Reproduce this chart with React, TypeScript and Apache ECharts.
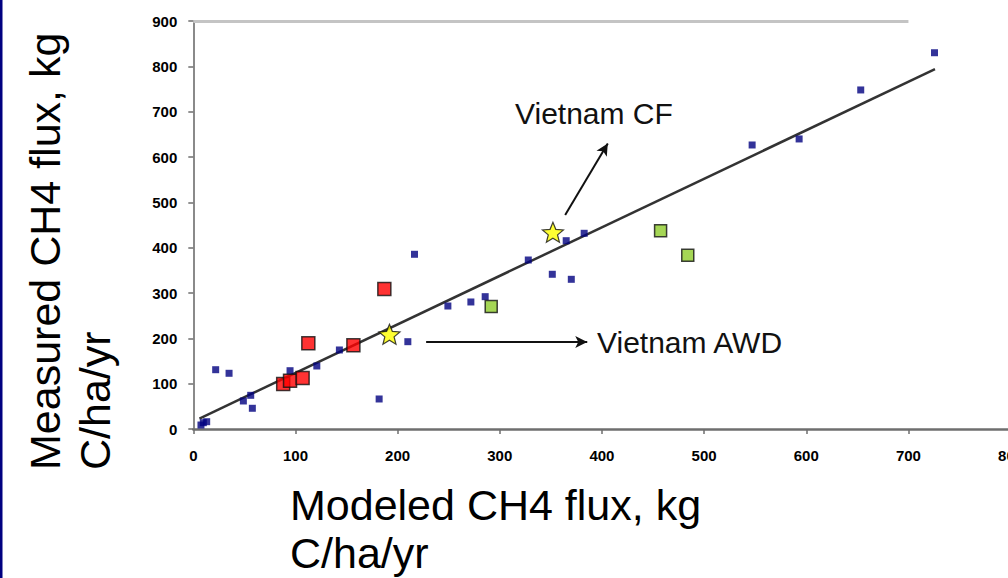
import React, { useEffect, useRef } from "react";
import * as echarts from "echarts";

// ---- data ----
const blueX = [216.5, 181.9, 210, 249.2, 271.7, 285.7, 143, 120.9, 94.7, 21.9, 35, 49, 56.2, 57.8, 9.8, 13.1, 7.5, 365, 382.6, 327.9, 351.4, 370, 547, 593, 653.3, 725.5];
const blueY = [385.4, 66.2, 192.6, 271.3, 280.2, 291.9, 174.3, 139, 128.6, 130.8, 122.9, 61.8, 74.3, 45.7, 13.9, 16.1, 8.8, 415.4, 431.7, 372.8, 341.3, 330.2, 626.5, 639.8, 747.9, 830];
const redX = [187, 112.6, 156.7, 88, 94.7, 107];
const redY = [309, 189, 184.6, 99, 106.5, 112.5];
const greenX = [291.6, 457.4, 484];
const greenY = [270, 437.5, 383];
const starX = [192, 352];
const starY = [209, 434];
const starNames = ["Vietnam AWD", "Vietnam CF"];
const regX = [6, 726];
const regY = [23, 794];
const xMin = 0, xMax = 800, xStep = 100;
const yMin = 0, yMax = 900, yStep = 100;
const xTitle = "Modeled CH4 flux, kg\nC/ha/yr";
const yTitle = "Measured CH4 flux, kg\nC/ha/yr";
// arrows (data coordinates): [fromX, fromY, toX, toY]
const arrowCF = [364, 472, 405.7, 630];
const arrowAWD = [227.9, 192, 385.6, 192];

const zip = (xs: number[], ys: number[]) => xs.map((x, i) => [x, ys[i]]);

const STAR =
  "path://M0,-10 L2.6,-3.6 L9.5,-3.1 L4.2,1.4 L5.9,8.1 L0,4.4 L-5.9,8.1 L-4.2,1.4 L-9.5,-3.1 L-2.6,-3.6 Z";

const FONT = '"Liberation Sans", Arial, sans-serif';
const CHART_W = 1014;

export default function App() {
  const ref = useRef<HTMLDivElement>(null);
  useEffect(() => {
    if (!ref.current) return;
    const chart = echarts.init(ref.current, null, { renderer: "svg", width: CHART_W, height: 578 });
    const axisColor = "#6e6e6e";
    const option: any = {
      animation: false,
      backgroundColor: "#ffffff",
      grid: {
        left: 193.3,
        top: 21,
        right: CHART_W - 1010.6,
        bottom: 149,
        containLabel: false,
        outerBoundsMode: "none",
      },
      xAxis: {
        type: "value",
        min: xMin,
        max: xMax,
        interval: xStep,
        splitLine: { show: false },
        axisLine: { show: true, onZero: false, lineStyle: { color: axisColor, width: 2.5 } },
        axisTick: { show: true, inside: false, length: 5, lineStyle: { color: axisColor, width: 1.5 } },
        axisLabel: {
          show: true,
          showMaxLabel: true,
          showMinLabel: true,
          hideOverlap: false,
          margin: 19,
          color: "#000",
          fontSize: 15,
          fontWeight: "bold",
          fontFamily: FONT,
        },
      },
      yAxis: {
        type: "value",
        min: yMin,
        max: yMax,
        interval: yStep,
        splitLine: { show: false },
        axisLine: { show: true, onZero: false, lineStyle: { color: "#8a8a8a", width: 2 } },
        axisTick: { show: true, inside: false, length: 5, lineStyle: { color: axisColor, width: 1.5 } },
        axisLabel: {
          show: true,
          showMaxLabel: true,
          margin: 16,
          color: "#000",
          fontSize: 15,
          fontWeight: "bold",
          fontFamily: FONT,
        },
      },
      series: [
        {
          name: "top border",
          type: "line",
          data: [],
          silent: true,
          markLine: {
            silent: true,
            symbol: ["none", "none"],
            label: { show: false },
            lineStyle: { color: "#c4c4c4", width: 3, type: "solid" },
            data: [[{ coord: [0, yMax] }, { coord: [700, yMax] }]],
          },
        },
        {
          name: "regression",
          type: "line",
          data: zip(regX, regY),
          symbol: "none",
          silent: true,
          lineStyle: { color: "#333333", width: 2.5 },
          z: 2,
        },
        {
          name: "sites",
          type: "scatter",
          data: zip(blueX, blueY),
          symbol: "rect",
          symbolSize: 7,
          itemStyle: { color: "#000080" },
          z: 3,
        },
        {
          name: "red",
          type: "scatter",
          data: zip(redX, redY),
          symbol: "rect",
          symbolSize: 13,
          itemStyle: { color: "#ff0000", borderColor: "#111", borderWidth: 1.5 },
          z: 4,
        },
        {
          name: "green",
          type: "scatter",
          data: zip(greenX, greenY),
          symbol: "rect",
          symbolSize: 12,
          itemStyle: { color: "#8fcc2a", borderColor: "#111", borderWidth: 1.5 },
          z: 4,
        },
        {
          name: "Vietnam",
          type: "scatter",
          data: starX.map((x, i) => ({ name: starNames[i], value: [x, starY[i]] })),
          symbol: STAR,
          symbolKeepAspect: true,
          symbolSize: 21,
          itemStyle: { color: "#ffff00", borderColor: "#111", borderWidth: 1.2 },
          z: 5,
        },
        {
          name: "arrows",
          type: "line",
          data: [],
          silent: true,
          markLine: {
            silent: true,
            symbol: ["none", "arrow"],
            symbolSize: [9, 12],
            label: { show: false },
            lineStyle: { color: "#111", width: 2, type: "solid" },
            data: [
              [{ coord: [arrowCF[0], arrowCF[1]] }, { coord: [arrowCF[2], arrowCF[3]] }],
              [{ coord: [arrowAWD[0], arrowAWD[1]] }, { coord: [arrowAWD[2], arrowAWD[3]] }],
            ],
          },
        },
      ],
      graphic: [
        {
          type: "rect",
          left: 0,
          top: 0,
          shape: { width: 2.5, height: 578 },
          style: { fill: "#000080" },
          silent: true,
        },
        {
          type: "text",
          x: 290,
          y: 481,
          style: {
            text: xTitle,
            fill: "#000",
            fontSize: 43,
            fontFamily: FONT,
            lineHeight: 48,
            align: "left",
            verticalAlign: "top",
          },
          silent: true,
        },
        {
          type: "text",
          x: 20,
          y: 470,
          rotation: Math.PI / 2,
          style: {
            text: yTitle,
            fill: "#000",
            fontSize: 43,
            fontFamily: FONT,
            lineHeight: 50,
            align: "left",
            verticalAlign: "top",
          },
          silent: true,
        },
        {
          type: "text",
          x: 515,
          y: 113,
          style: {
            text: starNames[1],
            fill: "#111",
            fontSize: 30,
            fontFamily: FONT,
            align: "left",
            verticalAlign: "middle",
          },
          silent: true,
        },
        {
          type: "text",
          x: 597,
          y: 342,
          style: {
            text: starNames[0],
            fill: "#111",
            fontSize: 30,
            fontFamily: FONT,
            align: "left",
            verticalAlign: "middle",
          },
          silent: true,
        },
      ],
    };
    chart.setOption(option);
    return () => chart.dispose();
  }, []);
  return (
    <div
      style={{ position: "absolute", left: 0, top: 0, width: 1008, height: 578, overflow: "hidden", background: "#fff" }}
    >
      <div ref={ref} style={{ width: CHART_W, height: 578 }} />
    </div>
  );
}
